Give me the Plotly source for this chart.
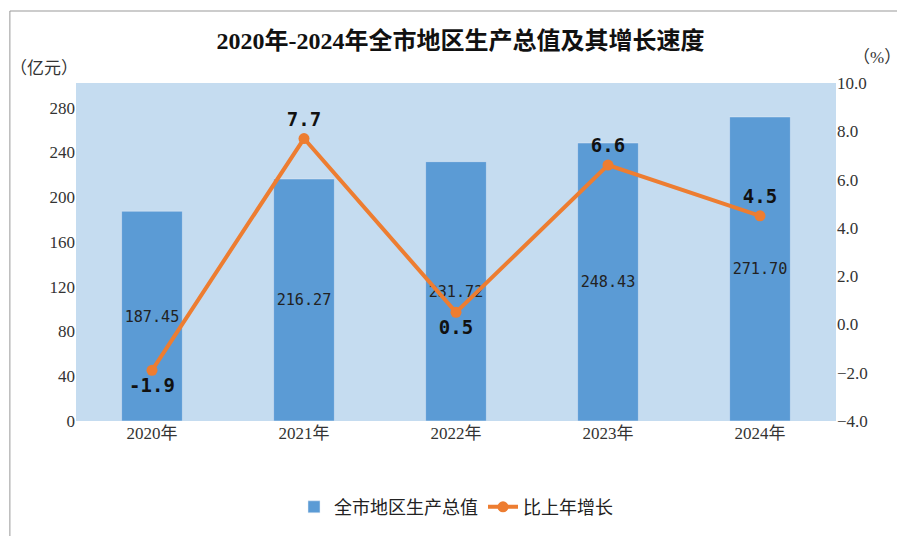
import plotly.graph_objects as go

years = ["2020年", "2021年", "2022年", "2023年", "2024年"]
gdp = [187.45, 216.27, 231.72, 248.43, 271.70]
growth = [-1.9, 7.7, 0.5, 6.6, 4.5]
growth_pos = ["bottom center", "top center", "bottom center", "top center", "top center"]

serif = "Liberation Serif, Noto Sans CJK SC, serif"

fig = go.Figure()
fig.add_trace(go.Bar(
    x=years, y=gdp, name="全市地区生产总值", marker_color="#5b9bd5", width=0.4,
    text=[f"{v:.2f}" for v in gdp], textposition="inside", insidetextanchor="middle",
    textangle=0,
    textfont=dict(size=18, color="#222", family="DejaVu Sans Mono, monospace"),
))
fig.add_trace(go.Scatter(
    x=years, y=growth, name="比上年增长", yaxis="y2", mode="lines+markers+text",
    line=dict(color="#ed7d31", width=4), marker=dict(size=11, color="#ed7d31"),
    text=[f"{v:.1f}" for v in growth], textposition=growth_pos,
    textfont=dict(size=19, color="#111", family="DejaVu Sans Mono, monospace", weight="bold"),
))
fig.update_layout(
    width=905, height=536, paper_bgcolor="white", plot_bgcolor="#c5dcf0",
    margin=dict(l=68, r=77, t=75, b=123),
    title=dict(text="<b>2020年-2024年全市地区生产总值及其增长速度</b>", x=0.5, y=0.955,
               font=dict(size=24, color="#111", family=serif)),
    font=dict(family=serif, size=17, color="#333"),
    bargap=0.6,
    xaxis=dict(showgrid=False, tickfont=dict(size=17)),
    yaxis=dict(range=[0, 302], tickvals=list(range(0, 281, 40)), showgrid=False,
               zeroline=False, tickfont=dict(size=17)),
    yaxis2=dict(range=[-4, 10], tickvals=[-4, -2, 0, 2, 4, 6, 8, 10], tickformat=".1f",
                overlaying="y", side="right", showgrid=False, zeroline=False,
                tickfont=dict(size=17)),
    legend=dict(orientation="h", x=0.5, xanchor="center", y=-0.2, yanchor="top",
                font=dict(size=18, color="#222")),
    annotations=[
        dict(text="（亿元）", xref="paper", yref="paper", x=-0.09, y=1.01, xanchor="left",
             yanchor="bottom", showarrow=False, font=dict(size=17)),
        dict(text="（%）", xref="paper", yref="paper", x=1.02, y=1.04, xanchor="left",
             yanchor="bottom", showarrow=False, font=dict(size=17)),
    ],
    shapes=[dict(type="rect", xref="paper", yref="paper", x0=-0.087, x1=1.099, y0=-0.355, y1=1.213,
                 line=dict(color="#999", width=1))],
)
fig.write_html("out.html")
